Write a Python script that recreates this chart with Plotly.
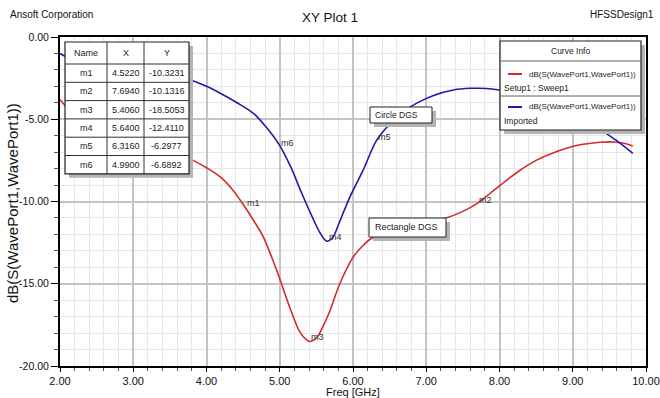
import plotly.graph_objects as go

# ---------------- data ----------------
freq_red = [2.0, 2.1, 2.3, 2.6, 3.0, 3.4, 3.73, 4.0, 4.2, 4.35, 4.52, 4.65, 4.77, 4.9, 5.0,
            5.15, 5.27, 5.35, 5.41, 5.5, 5.6, 5.68, 5.82, 6.0, 6.12, 6.25, 6.5, 6.75, 7.0,
            7.27, 7.5, 7.69, 7.9, 8.1, 8.28, 8.5, 8.73, 9.05, 9.37, 9.55, 9.7, 9.82]
db_red = [-3.8, -4.3, -4.8, -5.35, -5.95, -6.6, -7.3, -7.95, -8.55, -9.25, -10.3, -11.2,
          -12.1, -13.5, -14.7, -16.6, -17.9, -18.35, -18.51, -18.3, -17.5, -16.7, -15.0,
          -13.4, -12.75, -12.25, -11.8, -11.5, -11.25, -11.0, -10.6, -10.13, -9.4, -8.7,
          -8.1, -7.5, -7.05, -6.6, -6.4, -6.38, -6.46, -6.62]

freq_blue = [2.0, 2.1, 2.4, 2.8, 3.2, 3.5, 3.75, 4.0, 4.2, 4.4, 4.64, 4.8, 5.0, 5.15, 5.3,
             5.45, 5.55, 5.64, 5.72, 5.82, 5.96, 6.14, 6.32, 6.5, 6.7, 6.91, 7.1, 7.37,
             7.6, 7.82, 8.0, 8.3, 8.6, 8.9, 9.15, 9.39, 9.6, 9.82]
db_blue = [-1.0, -1.22, -1.5, -1.7, -1.95, -2.2, -2.55, -3.0, -3.45, -3.95, -4.64, -5.4,
           -6.6, -7.9, -9.5, -11.0, -11.9, -12.41, -12.2, -11.2, -9.7, -8.08, -6.3, -5.3,
           -4.5, -3.93, -3.55, -3.22, -3.12, -3.13, -3.22, -3.45, -3.85, -4.35, -4.9,
           -5.65, -6.3, -7.07]

marker_names = ["m1", "m2", "m3", "m4", "m5", "m6"]
marker_x = [4.5220, 7.6940, 5.4060, 5.6400, 6.3160, 4.9900]
marker_y = [-10.3231, -10.1316, -18.5053, -12.4110, -6.2977, -6.6892]

x_ticks = [2, 3, 4, 5, 6, 7, 8, 9, 10]
y_ticks = [0, -5, -10, -15, -20]

curve_names = ["dB(S(WavePort1,WavePort1))", "dB(S(WavePort1,WavePort1))"]
curve_sources = ["Setup1 : Sweep1", "Imported"]
curve_labels = ["Rectangle DGS", "Circle DGS"]
table_header = ["Name", "X", "Y"]

RED = "#d42a2a"
BLUE = "#1c1ca6"
FONT = "Liberation Sans Narrow, Arial Narrow, Liberation Sans, Arial, sans-serif"
TXT = "#222222"

# ---------------- geometry helpers (pixels -> paper) ----------------
W, H = 660, 398
L, R, T, B = 60, 646, 37, 366


def px(x):
    return (x - L) / (R - L)


def py(y):
    return (B - y) / (B - T)


fig = go.Figure()
fig.add_trace(go.Scatter(x=freq_red, y=db_red, mode="lines", name=curve_labels[0],
                         line=dict(color=RED, width=1.6, shape="spline", smoothing=1.0),
                         showlegend=False))
fig.add_trace(go.Scatter(x=freq_blue, y=db_blue, mode="lines", name=curve_labels[1],
                         line=dict(color=BLUE, width=1.6, shape="spline", smoothing=1.0),
                         showlegend=False))

shapes = []
annotations = []


def box(x0, y0, x1, y1, shadow=4, lw=1):
    shapes.append(dict(type="rect", xref="paper", yref="paper", layer="above",
                       x0=px(x0 + shadow), x1=px(x1 + shadow), y0=py(y1 + shadow), y1=py(y0 + shadow),
                       fillcolor="#b4b4b4", line=dict(width=0)))
    shapes.append(dict(type="rect", xref="paper", yref="paper", layer="above",
                       x0=px(x0), x1=px(x1), y0=py(y1), y1=py(y0),
                       fillcolor="white", line=dict(color="#202020", width=lw)))


def hline(x0, x1, y, color="#303030", width=1):
    shapes.append(dict(type="line", xref="paper", yref="paper", layer="above",
                       x0=px(x0), x1=px(x1), y0=py(y), y1=py(y),
                       line=dict(color=color, width=width)))


def vline(x, y0, y1, color="#303030", width=1):
    shapes.append(dict(type="line", xref="paper", yref="paper", layer="above",
                       x0=px(x), x1=px(x), y0=py(y0), y1=py(y1),
                       line=dict(color=color, width=width)))


def text(x, y, s, size=9, xanchor="center", color=TXT):
    annotations.append(dict(xref="paper", yref="paper", x=px(x), y=py(y), text=s,
                            showarrow=False, xanchor=xanchor, yanchor="middle",
                            font=dict(family=FONT, size=size, color=color)))


# ---- marker table ----
tx = [65, 107, 144, 189]
ty0, thead, rowh = 42, 64, 18.3
tbot = thead + rowh * len(marker_names)
box(tx[0], ty0, tx[3], tbot, shadow=4, lw=1.2)
vline(tx[1], ty0, tbot)
vline(tx[2], ty0, tbot)
hline(tx[0], tx[3], thead)
for i in range(1, len(marker_names)):
    hline(tx[0], tx[3], thead + rowh * i)
for j, h in enumerate(table_header):
    text((tx[j] + tx[j + 1]) / 2, (ty0 + thead) / 2, h)
for i, (n, xv, yv) in enumerate(zip(marker_names, marker_x, marker_y)):
    yc = thead + rowh * (i + 0.5)
    text((tx[0] + tx[1]) / 2, yc, n)
    text((tx[1] + tx[2]) / 2, yc, f"{xv:.4f}")
    text((tx[2] + tx[3]) / 2, yc, f"{yv:.4f}")

# ---- curve info box ----
lx0, lx1, ly0, ly1 = 500, 641, 41, 130
box(lx0, ly0, lx1, ly1, shadow=4, lw=1.2)
text((lx0 + lx1) / 2, 51, "Curve Info", size=8.5)
hline(lx0, lx1, 61, color="#606060")
hline(lx0, lx1, 96, color="#606060")
for k, (col, yy) in enumerate([(RED, 74), (BLUE, 107)]):
    shapes.append(dict(type="line", xref="paper", yref="paper", layer="above",
                       x0=px(508), x1=px(522), y0=py(yy), y1=py(yy),
                       line=dict(color=col, width=2)))
    text(527, yy, curve_names[k], xanchor="left", size=8)
    text(502, yy + 13.5, curve_sources[k], xanchor="left", size=8.5)

# ---- curve labels ----
box(369, 218, 446, 237, shadow=4, lw=1)
text(373, 227.5, curve_labels[0], xanchor="left", size=9)
box(370, 107, 432, 123, shadow=4, lw=1)
text(373, 115, curve_labels[1], xanchor="left", size=8.5)

# ---- marker labels ----
for n, xv, yv in zip(marker_names, marker_x, marker_y):
    annotations.append(dict(x=xv, y=yv, xref="x", yref="y", text=n, showarrow=False,
                            xanchor="left", yanchor="middle", yshift=4,
                            font=dict(family=FONT, size=9, color="#303030")))

# ---- header texts & axis titles ----
annotations.append(dict(xref="paper", yref="paper", x=px(W / 2), y=py(17), text="XY Plot 1",
                        showarrow=False, xanchor="center", yanchor="middle",
                        font=dict(family=FONT, size=13.5, color="#111111")))
annotations.append(dict(xref="paper", yref="paper", x=px(8), y=py(15), text="Ansoft Corporation",
                        showarrow=False, xanchor="left", yanchor="middle",
                        font=dict(family=FONT, size=10, color="#111111")))
annotations.append(dict(xref="paper", yref="paper", x=px(656), y=py(15), text="HFSSDesign1",
                        showarrow=False, xanchor="right", yanchor="middle",
                        font=dict(family=FONT, size=10, color="#111111")))
annotations.append(dict(xref="paper", yref="paper", x=px(353), y=py(392), text="Freq [GHz]",
                        showarrow=False, xanchor="center", yanchor="middle",
                        font=dict(family=FONT, size=11, color="#111111")))
annotations.append(dict(xref="paper", yref="paper", x=px(12), y=py(203),
                        text="dB(S(WavePort1,WavePort1))", textangle=-90,
                        showarrow=False, xanchor="center", yanchor="middle",
                        font=dict(family=FONT, size=15, color="#111111")))

fig.update_layout(
    width=W, height=H,
    margin=dict(l=L, r=W - R, t=T, b=H - B, pad=0, autoexpand=False),
    paper_bgcolor="white", plot_bgcolor="white",
    shapes=shapes, annotations=annotations,
    showlegend=False,
)
fig.update_xaxes(range=[2, 10], tickvals=x_ticks, ticktext=[f"{v:.2f}" for v in x_ticks],
                 ticklabeloverflow="allow", automargin=False,
                 showgrid=True, gridcolor="#c4c4c4", gridwidth=1.5,
                 zeroline=False, showline=True, mirror=True, linecolor="black", linewidth=2,
                 ticks="outside", ticklen=4, tickcolor="black",
                 tickfont=dict(family=FONT, size=11, color="#111111"),
                 minor=dict(dtick=0.2, tick0=2, showgrid=True, gridcolor="#e6e6e6", gridwidth=1,
                            ticks="outside", ticklen=3, tickcolor="#555555"))
fig.update_yaxes(range=[-20, 0], tickvals=y_ticks, ticktext=[f"{v:.2f}" for v in y_ticks],
                 ticklabeloverflow="allow", automargin=False,
                 showgrid=True, gridcolor="#c4c4c4", gridwidth=1.5,
                 zeroline=False, showline=True, mirror=True, linecolor="black", linewidth=2,
                 ticks="outside", ticklen=7, tickcolor="black",
                 tickfont=dict(family=FONT, size=10.5, color="#111111"),
                 minor=dict(dtick=1, tick0=0, showgrid=True, gridcolor="#e6e6e6", gridwidth=1,
                            ticks="outside", ticklen=4, tickcolor="#555555"))

fig.write_html("out.html")
